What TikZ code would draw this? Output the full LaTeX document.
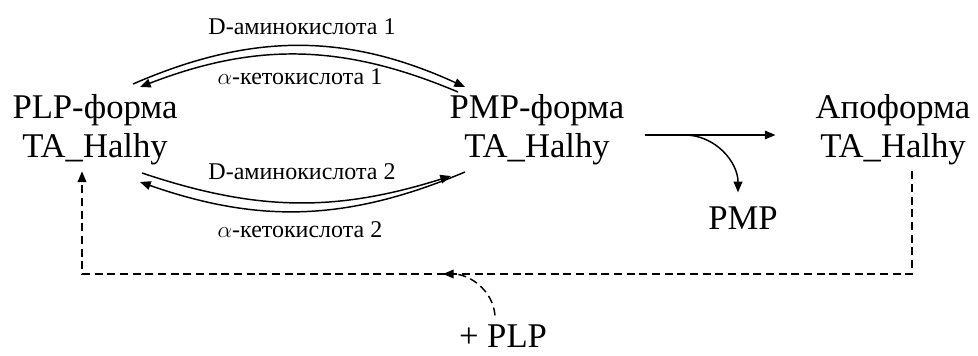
\documentclass[tikz,border=0pt]{standalone}
\usepackage{fontspec}
\setmainfont{Liberation Serif}
\usetikzlibrary{arrows.meta,calc}
\tikzset{
  big/.style={font=\fontsize{26}{29}\selectfont, align=center, inner sep=0pt},
  lbl/.style={font=\fontsize{18}{21}\selectfont, inner sep=0pt},
  arr/.style={line width=1.1pt, -{Triangle[length=8pt,width=6.5pt]}},
  dsh/.style={dash pattern=on 6pt off 3.5pt}
}
\begin{document}
\begin{tikzpicture}[x=0.75pt,y=0.75pt]
\useasboundingbox (0,0) rectangle (978,-356);
% nodes
\node[big] (plp) at (95,-130) {PLP-форма\\TA\_Halhy};
\node[big] (pmp) at (537,-130) {PMP-форма\\TA\_Halhy};
\node[big] (apo) at (893,-130) {Апоформа\\TA\_Halhy};
\node[big] (pmpx) at (743,-218) {PMP};
\node[big] (plus) at (503,-336) {+ PLP};
% labels
\node[lbl] (l1) at (302,-27) {D-аминокислота 1};
\node[lbl] (l2) at (300,-77) {$\alpha$-кетокислота 1};
\node[lbl] (l3) at (302,-172) {D-аминокислота 2};
\node[lbl] (l4) at (300,-230) {$\alpha$-кетокислота 2};
% coordinates
\coordinate (a1s) at (133,-84);
\coordinate (a1e) at (465,-87);
\coordinate (a2s) at (458,-92);
\coordinate (a2e) at (140,-87);
\coordinate (b1s) at (142,-173);
\coordinate (b1e) at (451,-176);
\coordinate (b2s) at (465,-172);
\coordinate (b2e) at (140,-182);
\coordinate (dj) at (443,-274);
\coordinate (ds) at ($(apo.south)+(19,-6)$);
\coordinate (de) at ($(plp.south)+(-13,-6)$);
% top pair
\draw[arr] (a1s) to[bend left=24] (a1e);
\draw[arr] (a2s) to[bend right=22] (a2e);
% bottom pair
\draw[arr] (b1s) to[bend right=18] (b1e);
\draw[arr] (b2s) to[bend left=21] (b2e);
% middle reaction
\draw[arr] ($(pmp.east)+(20,-5)$) -- ($(apo.west)+(-40,-5)$);
\draw[arr] ($(pmp.east)+(60,-5)$) to[out=0,in=90] ($(pmpx.north)+(-5,14)$);
% dashed return
\draw[arr,dsh] (ds) |- (dj) -| (de);
\draw[arr,dsh] ($(plus.north)+(-8,9)$) to[out=95,in=0] (dj);
\end{tikzpicture}
\end{document}
